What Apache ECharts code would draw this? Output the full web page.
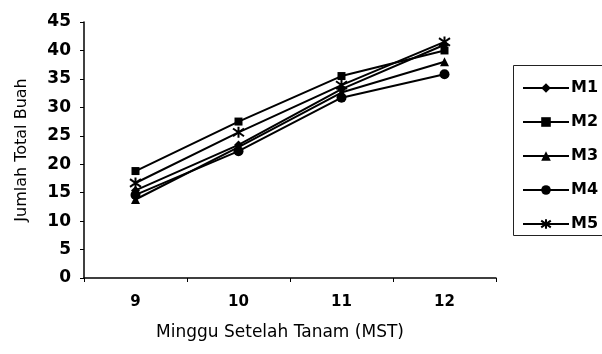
<!DOCTYPE html>
<html><head><meta charset="utf-8">
<script src="https://cdn.jsdelivr.net/npm/echarts@6/dist/echarts.min.js"></script>
<style>html,body{margin:0;padding:0;background:#fff}#c{width:602px;height:354px}</style>
</head><body><div id="c"></div>
<script>
const categories = ['9', '10', '11', '12'];
const M1 = [15.4, 23.4, 33.2, 41.0];
const M2 = [18.8, 27.5, 35.5, 40.0];
const M3 = [13.8, 23.0, 32.6, 38.0];
const M4 = [14.6, 22.3, 31.7, 35.8];
const M5 = [16.7, 25.6, 33.9, 41.5];
const seriesNames = ['M1', 'M2', 'M3', 'M4', 'M5'];
const seriesData = [M1, M2, M3, M4, M5];
const xTitle = 'Minggu Setelah Tanam (MST)';
const yTitle = 'Jumlah Total Buah';

const asterisk = 'path://M5,0 L5,10 M0.8,1.5 L9.2,8.5 M9.2,1.5 L0.8,8.5';
const symbols = ['diamond', 'rect', 'triangle', 'circle', asterisk];
const sizes = [9, 8, 9, 10, 11];

const chart = echarts.init(document.getElementById('c'));
chart.setOption({
  animation: false,
  backgroundColor: '#fff',
  textStyle: { fontFamily: 'DejaVu Sans', color: '#000' },
  grid: { left: 84, top: 22, right: 106, bottom: 76 },
  graphic: [{
    type: 'rect',
    shape: { x: 513.5, y: 65.5, width: 120, height: 170 },
    style: { fill: 'none', stroke: '#222', lineWidth: 1 },
    z: 1
  }],
  legend: {
    orient: 'vertical',
    left: 513, top: 65,
    padding: [15, 0, 7, 9],
    itemWidth: 46, itemHeight: 12, itemGap: 18,
    textStyle: { fontFamily: 'DejaVu Sans', fontWeight: 'bold', fontSize: 16, color: '#000', padding: [0, 0, 0, -3] },
    data: seriesNames
  },
  xAxis: {
    type: 'category', data: categories, boundaryGap: true,
    name: xTitle, nameLocation: 'middle', nameGap: 46,
    nameTextStyle: { fontFamily: 'DejaVu Sans', fontSize: 17, color: '#000', padding: [0, 20, 0, 0] },
    axisLine: { lineStyle: { color: '#000', width: 1.5 } },
    axisTick: { show: true, length: 4, lineStyle: { color: '#000' } },
    axisLabel: { margin: 17, fontFamily: 'DejaVu Sans', fontWeight: 'bold', fontSize: 15, color: '#000' },
    splitLine: { show: false }
  },
  yAxis: {
    type: 'value', min: 0, max: 45, interval: 5,
    name: yTitle, nameLocation: 'middle', nameGap: 54, nameRotate: 90,
    nameTextStyle: { fontFamily: 'DejaVu Sans', fontSize: 16, color: '#000' },
    axisLine: { show: true, lineStyle: { color: '#000', width: 1.5 } },
    axisTick: { show: true, length: 4, lineStyle: { color: '#000' } },
    axisLabel: { margin: 13, fontFamily: 'DejaVu Sans', fontWeight: 'bold', fontSize: 17, color: '#000' },
    splitLine: { show: false }
  },
  series: seriesNames.map((n, i) => ({
    name: n, type: 'line', data: seriesData[i],
    symbol: symbols[i], symbolSize: sizes[i],
    lineStyle: { color: '#000', width: 2 },
    itemStyle: { color: '#000', borderColor: '#000', borderWidth: i === 4 ? 2 : 0 },
    z: 2
  }))
});
</script></body></html>
